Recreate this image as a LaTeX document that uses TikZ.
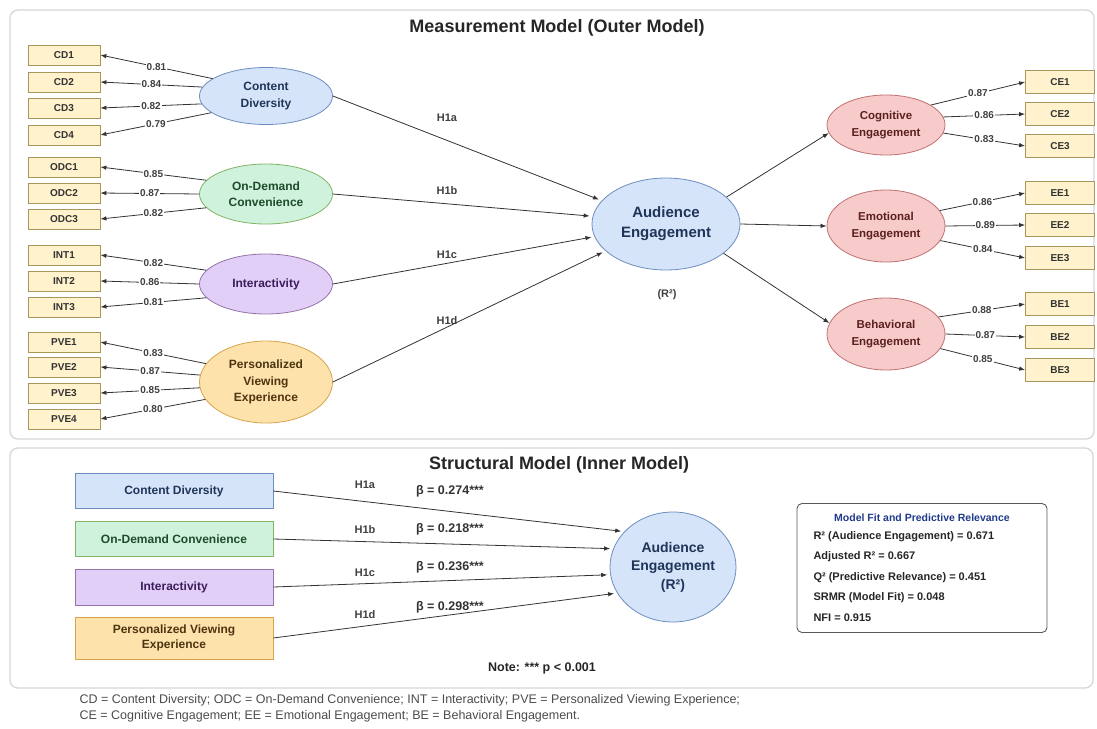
\documentclass[tikz,border=0pt]{standalone}
\usepackage{fontspec}
\setmainfont{Liberation Sans}
\usetikzlibrary{shapes.geometric,arrows.meta}
\definecolor{cdfill}{HTML}{D6E4FA}\definecolor{cddraw}{HTML}{6C8EBF}\definecolor{cdtext}{HTML}{1F3558}
\definecolor{odfill}{HTML}{CFF2DC}\definecolor{oddraw}{HTML}{82B366}\definecolor{odtext}{HTML}{1E4D2B}
\definecolor{infill}{HTML}{E2CFF8}\definecolor{indraw}{HTML}{9673A6}\definecolor{intext}{HTML}{3B1F5C}
\definecolor{pvfill}{HTML}{FDE2AC}\definecolor{pvdraw}{HTML}{D6A54B}\definecolor{pvtext}{HTML}{4D3510}
\definecolor{enfill}{HTML}{F8CBCB}\definecolor{endraw}{HTML}{C07070}\definecolor{entext}{HTML}{5C1F1F}
\definecolor{itfill}{HTML}{FFF2CC}\definecolor{itdraw}{HTML}{A8975A}
\definecolor{panelline}{HTML}{D6D6D6}
\definecolor{fitblue}{HTML}{1F3A8A}
\begin{document}
\begin{tikzpicture}[x=1pt,y=-1pt,
  item node/.style={rectangle,draw=itdraw,fill=itfill,line width=0.8pt,minimum width=72pt,minimum height=20pt,inner sep=0pt,text=black!80,font=\bfseries\fontsize{10}{12}\selectfont},
  latent node/.style={ellipse,line width=0.8pt,minimum width=133pt,inner sep=0pt,align=center,font=\bfseries\fontsize{12}{16.5}\selectfont},
  struct node/.style={rectangle,line width=0.8pt,minimum width=198pt,minimum height=35pt,inner sep=0pt,align=center,font=\bfseries\fontsize{12}{15}\selectfont},
  cd col/.style={draw=cddraw,fill=cdfill,text=cdtext},
  od col/.style={draw=oddraw,fill=odfill,text=odtext},
  in col/.style={draw=indraw,fill=infill,text=intext},
  pv col/.style={draw=pvdraw,fill=pvfill,text=pvtext},
  en col/.style={draw=endraw,fill=enfill,text=entext},
  load/.style={fill=white,inner sep=1pt,text=black!75,font=\bfseries\fontsize{10}{12}\selectfont},
  hyp/.style={text=black!75,font=\bfseries\fontsize{11}{13}\selectfont},
  beta lab/.style={text=black!80,font=\bfseries\fontsize{12.5}{14}\selectfont},
  fit line/.style={anchor=west,text=black!85,font=\bfseries\fontsize{11}{13}\selectfont},
  panel title/.style={text=black!85,font=\bfseries\fontsize{18}{21}\selectfont},
  abbr/.style={anchor=west,text=black!70,font=\fontsize{12.5}{15}\selectfont},
  arr/.style={-{Latex[length=6pt,width=4.5pt]},color=black!80,line width=0.8pt}]
  \useasboundingbox (0,0) rectangle (1097,728);

  % panels
  \draw[panelline,line width=1.3pt,rounded corners=8pt] (10,10) rectangle (1094,439);
  \draw[panelline,line width=1.3pt,rounded corners=8pt] (10,448) rectangle (1093,688);
  \node[panel title] (outer) at (557,28) {Measurement Model (Outer Model)};
  \node[panel title] (inner) at (559,465) {Structural Model (Inner Model)};

  % indicators, left
  \node[item node] (CD1) at (64,55) {CD1};
  \node[item node] (CD2) at (64,82) {CD2};
  \node[item node] (CD3) at (64,108) {CD3};
  \node[item node] (CD4) at (64,135) {CD4};
  \node[item node] (ODC1) at (64,167) {ODC1};
  \node[item node] (ODC2) at (64,193) {ODC2};
  \node[item node] (ODC3) at (64,219) {ODC3};
  \node[item node] (INT1) at (64,255) {INT1};
  \node[item node] (INT2) at (64,281) {INT2};
  \node[item node] (INT3) at (64,307) {INT3};
  \node[item node] (PVE1) at (64,342) {PVE1};
  \node[item node] (PVE2) at (64,367) {PVE2};
  \node[item node] (PVE3) at (64,393) {PVE3};
  \node[item node] (PVE4) at (64,419) {PVE4};

  % latent variables
  \node[latent node,cd col,minimum height=57pt] (CD) at (266,96) {Content\\Diversity};
  \node[latent node,od col,minimum height=60pt] (ODC) at (266,194) {On-Demand\\Convenience};
  \node[latent node,in col,minimum height=60pt] (INT) at (266,284) {Interactivity};
  \node[latent node,pv col,minimum height=82pt] (PVE) at (266,382) {Personalized\\Viewing\\Experience};
  \node[latent node,cd col,minimum width=148pt,minimum height=92pt,font=\bfseries\fontsize{15}{20}\selectfont] (AE) at (666,224) {Audience\\Engagement};
  \node[text=black!75,font=\bfseries\fontsize{11}{13}\selectfont] (R2) at (667,295) {(R²)};
  \node[latent node,en col,minimum width=118pt,minimum height=60pt,font=\bfseries\fontsize{11.5}{17}\selectfont] (CE) at (886,125) {Cognitive\\Engagement};
  \node[latent node,en col,minimum width=118pt,minimum height=72pt,font=\bfseries\fontsize{11.5}{17}\selectfont] (EE) at (886,226) {Emotional\\Engagement};
  \node[latent node,en col,minimum width=118pt,minimum height=72pt,font=\bfseries\fontsize{11.5}{17}\selectfont] (BE) at (886,334) {Behavioral\\Engagement};

  % indicators, right
  \node[item node,minimum width=69pt,minimum height=23pt] (CE1) at (1060,82) {CE1};
  \node[item node,minimum width=69pt,minimum height=23pt] (CE2) at (1060,114) {CE2};
  \node[item node,minimum width=69pt,minimum height=23pt] (CE3) at (1060,146) {CE3};
  \node[item node,minimum width=69pt,minimum height=23pt] (EE1) at (1060,193) {EE1};
  \node[item node,minimum width=69pt,minimum height=23pt] (EE2) at (1060,225) {EE2};
  \node[item node,minimum width=69pt,minimum height=23pt] (EE3) at (1060,258) {EE3};
  \node[item node,minimum width=69pt,minimum height=23pt] (BE1) at (1060,304) {BE1};
  \node[item node,minimum width=69pt,minimum height=23pt] (BE2) at (1060,337) {BE2};
  \node[item node,minimum width=69pt,minimum height=23pt] (BE3) at (1060,370) {BE3};

  % outer loadings
  \path[arr]
    (CD.162) edge node[load] {0.81} (CD1.east)
    (CD.172) edge node[load] {0.84} (CD2.east)
    (CD.187) edge node[load] {0.82} (CD3.east)
    (CD.197) edge node[load] {0.79} (CD4.east)
    (ODC.167) edge node[load] {0.85} (ODC1.east)
    (ODC.180) edge node[load] {0.87} (ODC2.east)
    (ODC.193) edge node[load] {0.82} (ODC3.east)
    (INT.167) edge node[load] {0.82} (INT1.east)
    (INT.180) edge node[load] {0.86} (INT2.east)
    (INT.193) edge node[load] {0.81} (INT3.east)
    (PVE.163) edge node[load] {0.83} (PVE1.east)
    (PVE.174) edge node[load] {0.87} (PVE2.east)
    (PVE.185) edge node[load] {0.85} (PVE3.east)
    (PVE.196) edge node[load] {0.80} (PVE4.east);
  \path[arr]
    (CE.24) edge node[load] {0.87} (CE1.west)
    (CE.8) edge node[load] {0.86} (CE2.west)
    (CE.-8) edge node[load] {0.83} (CE3.west)
    (EE.16) edge node[load] {0.86} (EE1.west)
    (EE.0) edge node[load] {0.89} (EE2.west)
    (EE.-15) edge node[load] {0.84} (EE3.west)
    (BE.18) edge node[load] {0.88} (BE1.west)
    (BE.0) edge node[load] {0.87} (BE2.west)
    (BE.-15) edge node[load] {0.85} (BE3.west);

  % hypothesised paths
  \path[arr,shorten >=3pt]
    (CD.east) edge (AE.160)
    (ODC.east) edge (AE.174)
    (INT.east) edge (AE.190)
    (PVE.east) edge (AE.204);
  \node[hyp] (h1a) at (447,118) {H1a};
  \node[hyp] (h1b) at (447,191) {H1b};
  \node[hyp] (h1c) at (447,255) {H1c};
  \node[hyp] (h1d) at (447,321) {H1d};
  \path[arr]
    (AE.24) edge (CE.188)
    (AE.east) edge (EE.west)
    (AE.-27) edge (BE.169);

  % structural model
  \node[struct node,cd col] (sCD) at (174,491) {Content Diversity};
  \node[struct node,od col] (sODC) at (174,539) {On-Demand Convenience};
  \node[struct node,in col,minimum height=36pt] (sINT) at (174,587) {Interactivity};
  \node[struct node,pv col,minimum height=42pt] (sPVE) at (174,638) {Personalized Viewing\\Experience};
  \node[ellipse,cd col,line width=0.8pt,minimum width=126pt,minimum height=110pt,inner sep=0pt,align=center,font=\bfseries\fontsize{14}{18.5}\selectfont] (sAE) at (673,567) {Audience\\Engagement\\(R²)};
  \path[arr,shorten >=3pt]
    (sCD.east) edge (sAE.144)
    (sODC.east) edge (sAE.163)
    (sINT.east) edge (sAE.187)
    (sPVE.east) edge (sAE.205);
  \node[hyp] (s1a) at (365,485) {H1a};
  \node[hyp] (s1b) at (365,530) {H1b};
  \node[hyp] (s1c) at (365,573) {H1c};
  \node[hyp] (s1d) at (365,615) {H1d};
  \node[beta lab] (b1a) at (450,491) {β = 0.274***};
  \node[beta lab] (b1b) at (450,529) {β = 0.218***};
  \node[beta lab] (b1c) at (450,567) {β = 0.236***};
  \node[beta lab] (b1d) at (450,607) {β = 0.298***};
  \node[text=black!85,font=\bfseries\fontsize{12.5}{15}\selectfont] (note) at (542,668) {Note: *** p < 0.001};

  % model fit box
  \node[draw=black!65,line width=0.9pt,rounded corners=5pt,minimum width=250pt,minimum height=129pt] (fit) at (922,568) {};
  \node[text=fitblue,font=\bfseries\fontsize{10.5}{12}\selectfont] (fittitle) at (922,518) {Model Fit and Predictive Relevance};
  \node[fit line] (f1) at (810,537) {R² (Audience Engagement) = 0.671};
  \node[fit line] (f2) at (810,557) {Adjusted R² = 0.667};
  \node[fit line] (f3) at (810,578) {Q² (Predictive Relevance) = 0.451};
  \node[fit line] (f4) at (810,598) {SRMR (Model Fit) = 0.048};
  \node[fit line] (f5) at (810,618) {NFI = 0.915};

  % abbreviations
  \node[abbr] (abbr1) at (76,700) {CD = Content Diversity; ODC = On-Demand Convenience; INT = Interactivity; PVE = Personalized Viewing Experience;};
  \node[abbr] (abbr2) at (76,716) {CE = Cognitive Engagement; EE = Emotional Engagement; BE = Behavioral Engagement.};
\end{tikzpicture}
\end{document}
